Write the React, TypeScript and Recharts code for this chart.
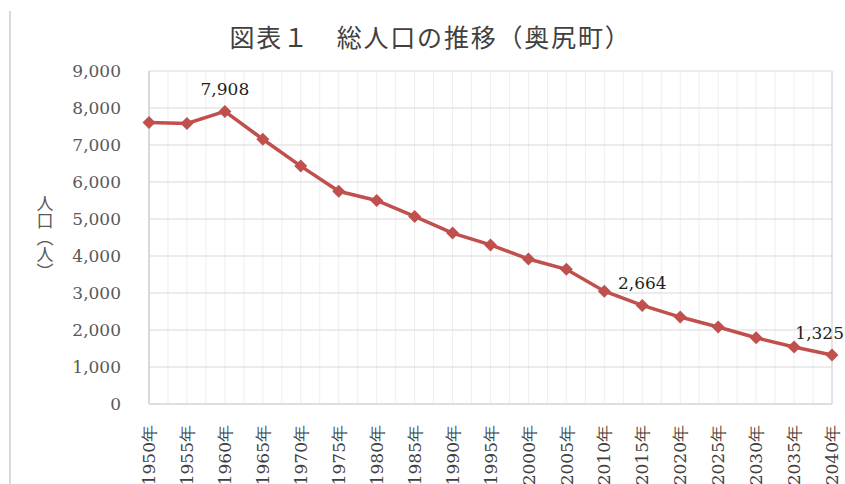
import { LineChart, Line, XAxis, YAxis, CartesianGrid } from "recharts";

const years = [
  "1950年", "1955年", "1960年", "1965年", "1970年", "1975年", "1980年",
  "1985年", "1990年", "1995年", "2000年", "2005年", "2010年", "2015年",
  "2020年", "2025年", "2030年", "2035年", "2040年",
];
const population = [
  7610, 7580, 7908, 7155, 6430, 5750, 5500, 5070, 4620, 4300,
  3920, 3640, 3050, 2664, 2350, 2080, 1790, 1540, 1325,
];
const labeledYears = ["1960年", "2015年", "2040年"];
const yTicks = [0, 1000, 2000, 3000, 4000, 5000, 6000, 7000, 8000, 9000];

const data = years.map((y, i) => ({ year: y, pop: population[i] }));

const RED = "#c0504d";
const SERIF = "'DejaVu Serif', 'Liberation Serif', serif";
const CJK = "'Noto Sans CJK JP', sans-serif";

const Diamond = (props: any) => {
  const { cx, cy, index } = props;
  const r = 6.5;
  return (
    <path
      key={`d-${index}`}
      d={`M${cx},${cy - r}L${cx + r},${cy}L${cx},${cy + r}L${cx - r},${cy}Z`}
      fill={RED}
    />
  );
};

const ValueLabel = (props: any) => {
  const { x, y, value, index } = props;
  if (!labeledYears.includes(years[index])) return null;
  // last label is pulled left so it stays inside the frame
  const last = index === years.length - 1;
  return (
    <text x={last ? x + 12 : x} y={y - 16} textAnchor={last ? "end" : "middle"}
      fontSize={17} fontFamily={SERIF} fill="#1f1f1f">
      {value.toLocaleString("en-US")}
    </text>
  );
};

const XTick = ({ x, y, payload }: any) => (
  <text
    transform={`translate(${x},${y + 13}) rotate(-90)`}
    textAnchor="end" dy="0.36em" fontSize={17} fontFamily={SERIF} fill="#404040"
  >
    {payload.value}
  </text>
);

const YLabel = ({ viewBox }: any) => {
  const cy = viewBox.y + viewBox.height / 2;
  return (
    <text x={viewBox.x + 45} y={cy} textAnchor="middle" fontSize={17}
      fontFamily={CJK} fill="#595959" style={{ writingMode: "vertical-rl" }}>
      人口（人）
    </text>
  );
};

const minorVerticals = ({ offset }: any) => {
  const n = (years.length - 1) * 2;
  return Array.from({ length: n + 1 }, (_, i) => offset.left + (offset.width * i) / n);
};
const edgeVerticals = ({ offset }: any) => [offset.left, offset.left + offset.width];

export default function App() {
  return (
    <div style={{ position: "absolute", left: 0, top: 0, width: 845, height: 484, background: "#fff" }}>
      <div style={{ position: "absolute", left: 9, top: 11, bottom: 0, borderLeft: "2px solid #d9d9d9" }} />
      <div
        style={{
          position: "absolute", left: 0, width: 845, top: 18, textAlign: "center",
          fontFamily: CJK, fontSize: 25, letterSpacing: 1.8, color: "#404040",
          paddingLeft: 8,
        }}
      >
        図表１　総人口の推移（奥尻町）
      </div>
      <LineChart
        width={845}
        height={484}
        data={data}
        margin={{ top: 71, right: 13, left: 0, bottom: 0 }}
        style={{ position: "absolute", left: 0, top: 0 }}
      >
        <CartesianGrid horizontal={false} stroke="#efefef"
          verticalCoordinatesGenerator={minorVerticals} />
        <CartesianGrid vertical={false} stroke="#d9d9d9" />
        <CartesianGrid horizontal={false} stroke="#d0d0d0"
          verticalCoordinatesGenerator={edgeVerticals} />
        <XAxis dataKey="year" height={80} tick={<XTick />} tickLine={false}
          axisLine={{ stroke: "#d0d0d0" }} interval={0} />
        <YAxis width={149} domain={[0, 9000]} ticks={yTicks} tickLine={false}
          axisLine={{ stroke: "#d0d0d0" }} tickMargin={22}
          tick={{ fontSize: 17, fontFamily: SERIF, fill: "#595959" }}
          tickFormatter={(v: number) => v.toLocaleString("en-US")}
          label={{ content: <YLabel /> }} />
        <Line type="linear" dataKey="pop" stroke={RED} strokeWidth={3.5}
          dot={Diamond} activeDot={false} label={ValueLabel}
          isAnimationActive={false} />
      </LineChart>
    </div>
  );
}
